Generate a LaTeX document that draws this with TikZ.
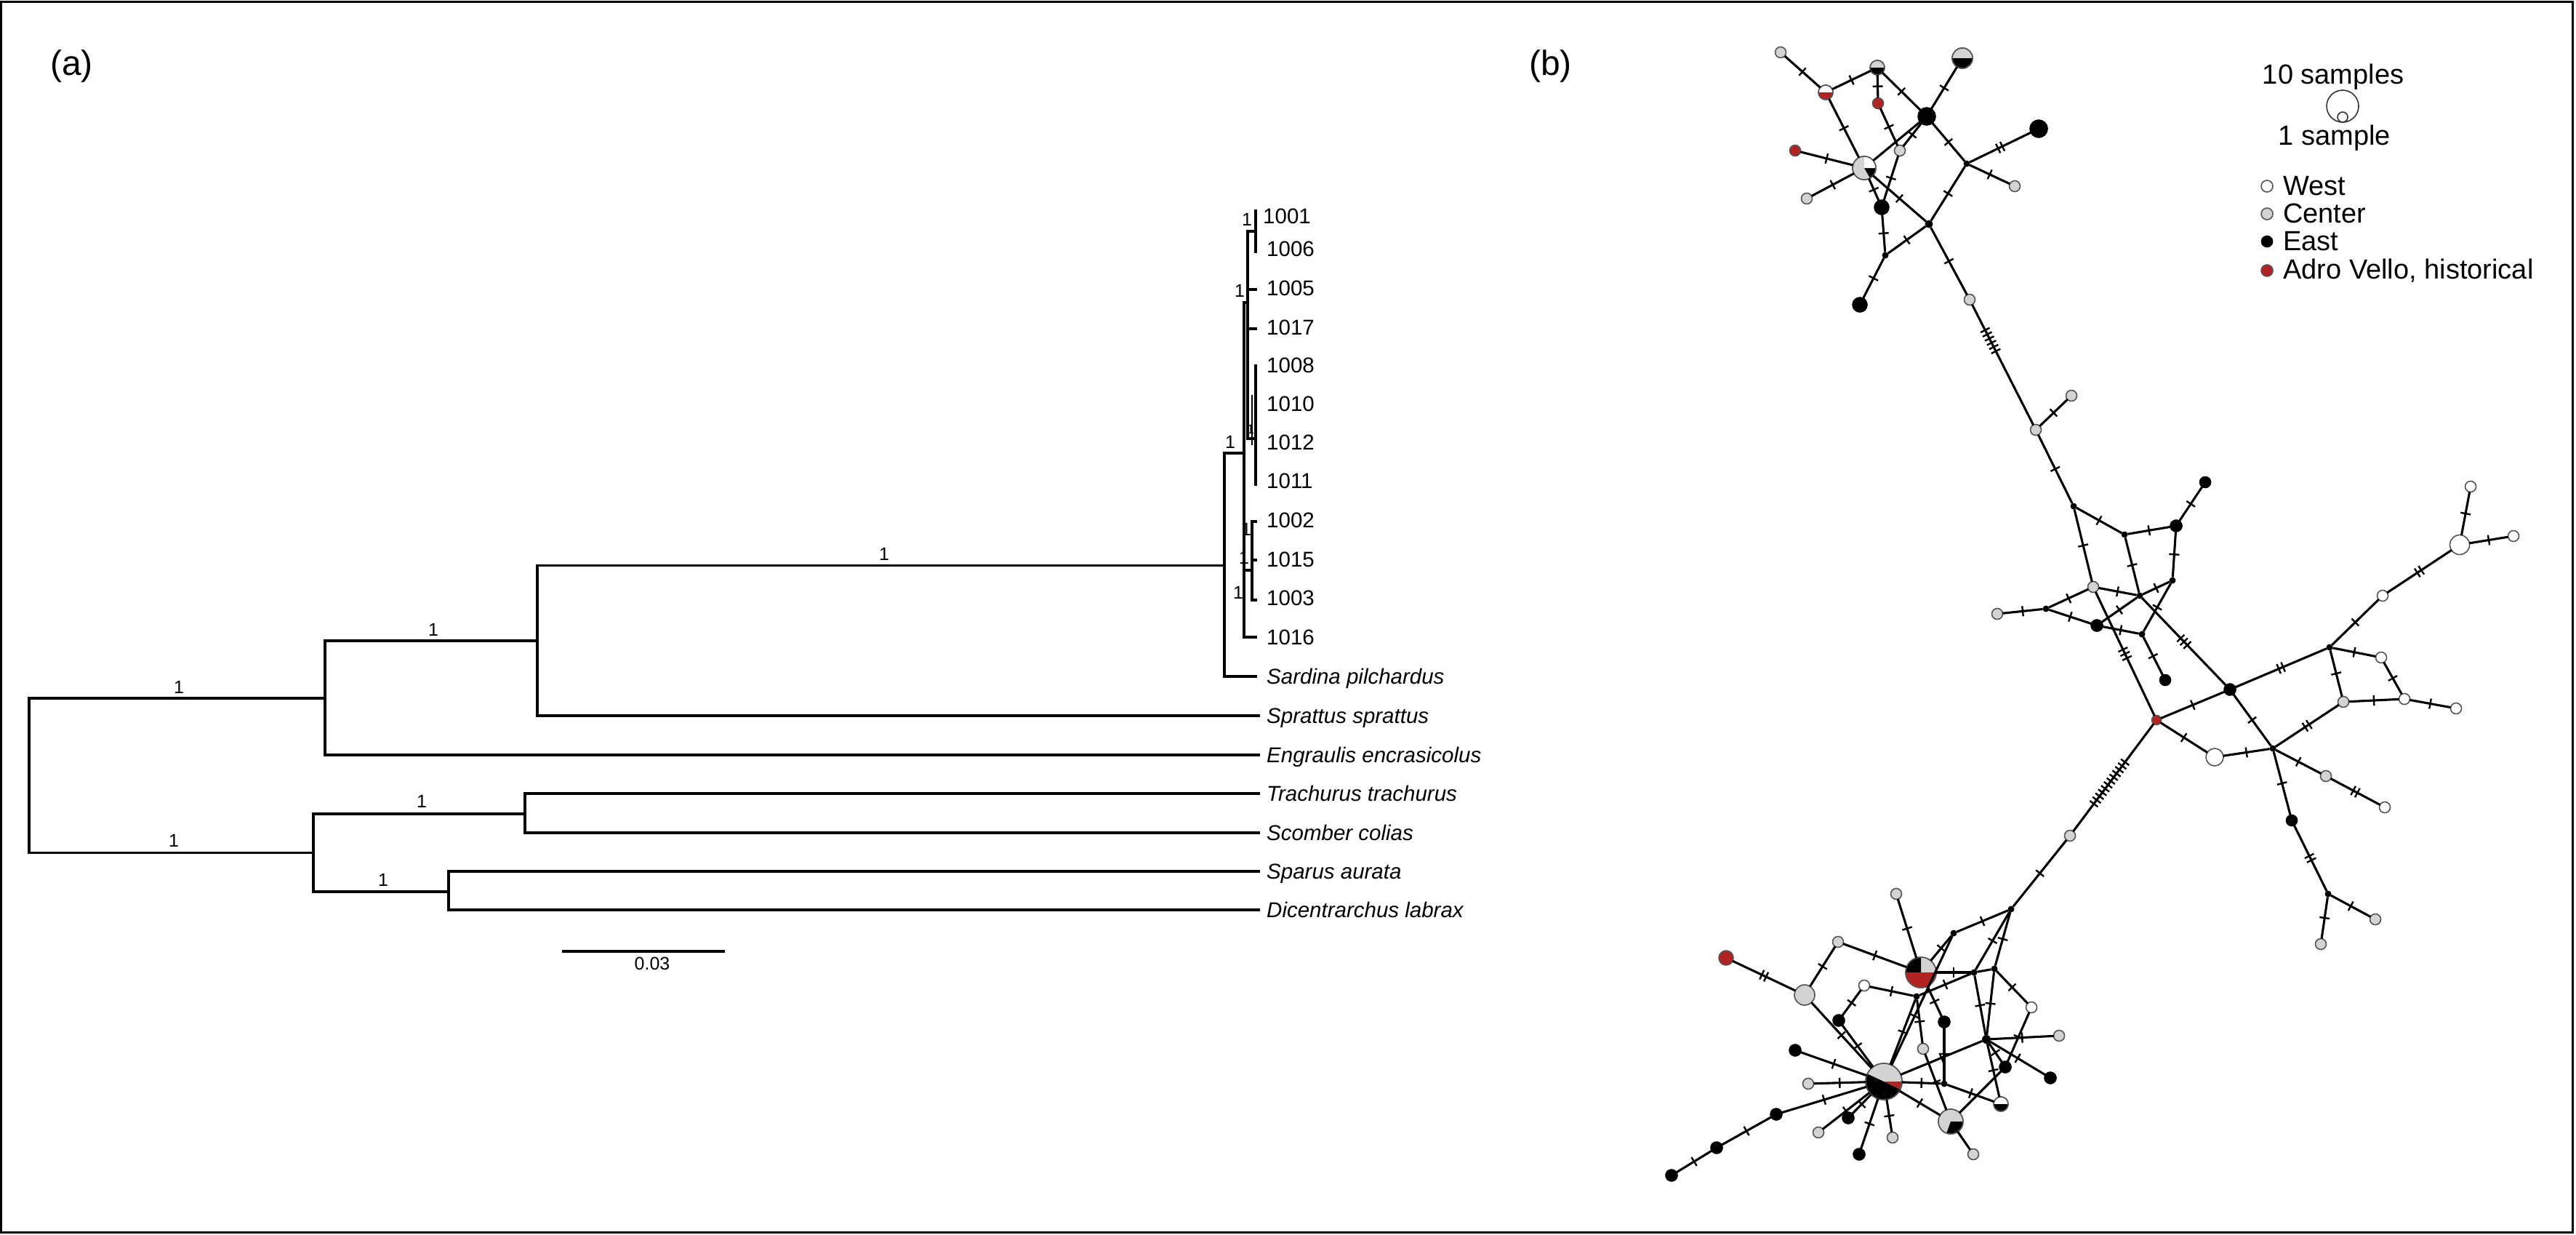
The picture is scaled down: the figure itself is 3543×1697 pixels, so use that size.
\documentclass[tikz,border=0pt]{standalone}
\usepackage{fontspec}
\setmainfont{Liberation Sans}
\usetikzlibrary{decorations.markings}
\definecolor{avred}{RGB}{178,34,34}
\definecolor{cgrey}{RGB}{211,211,211}
\definecolor{ol}{RGB}{85,85,85}
\newcommand\tks[1]{\foreach \k in {1,...,#1}{\draw[tk] ({(\k-(#1+1)/2)*6.5},-7) -- ({(\k-(#1+1)/2)*6.5},7);}}
\newcommand\pieslice[5]{\fill[#5, shift={(#1.center)}, x=1pt, y=1pt] (0,0) -- (#3:#2) arc[start angle=#3, end angle=#4, radius=#2] -- cycle;}
\newcommand\pierim[2]{\draw[ol, line width=1.6pt] (#1.center) circle[radius=#2pt];}
\begin{document}
\begin{tikzpicture}[x=1pt,y=-1pt,
 tr/.style={line width=3.8pt, line cap=rect},
 tip/.style={inner sep=0pt, anchor=base west, font=\fontsize{29.5}{34}\selectfont},
 spn/.style={inner sep=0pt, anchor=base west, font=\fontsize{29.5}{34}\selectfont\itshape},
 bs/.style={inner sep=0pt, font=\fontsize{25}{30}\selectfont},
 hap/.style={circle, inner sep=0pt, outer sep=0pt, draw=ol, line width=1.6pt},
 wN/.style={hap, fill=white, minimum size=15pt},
 cN/.style={hap, fill=cgrey, minimum size=15pt},
 eN/.style={hap, fill=black, draw=black, minimum size=#1}, eN/.default=15pt,
 rN/.style={hap, fill=avred, minimum size=#1}, rN/.default=15pt,
 mv/.style={circle, inner sep=0pt, outer sep=0pt, fill=black, minimum size=#1}, mv/.default=9pt,
 pn/.style={hap, minimum size=#1},
 ed/.style={line width=3.1pt},
 tk/.style={line width=2.4pt},
 mut/.style={postaction={decorate,decoration={markings,mark=at position 0.5 with {\tks{#1}}}}},
 mutp/.style 2 args={postaction={decorate,decoration={markings,mark=at position #2 with {\tks{#1}}}}},
 lg/.style={inner sep=0pt, font=\fontsize{38}{44}\selectfont},
 pan/.style={inner sep=0pt, anchor=base west, font=\fontsize{48}{56}\selectfont}
]
\useasboundingbox (0,0) rectangle (3543,1697);
\fill[white] (0,0) rectangle (3543,1697);
\draw[line width=3pt] (1.5,2) rectangle (3538,1694);

\node[pan] (pa) at (69,103) {(a)};
\node[pan] (pb) at (2103,103) {(b)};

% ---------------- tree ----------------
\draw[tr] (40,960) -- (40,1172.5);
\draw[tr] (40,960) -- (447,960);
\draw[tr] (447,881) -- (447,1038);
\draw[tr] (447,1038) -- (1731,1038);
\draw[tr] (447,881) -- (739,881);
\draw[tr] (739,777.5) -- (739,984);
\draw[tr] (739,984) -- (1731,984);
\draw[tr] (739,777.5) -- (1684,777.5);
\draw[tr] (1684,623) -- (1684,930);
\draw[tr] (1684,930) -- (1727,930);
\draw[tr] (1684,623) -- (1711,623);
\draw[tr] (1711,416) -- (1711,876);
\draw[tr] (1711,416) -- (1716,416);
\draw[tr] (1716,318) -- (1716,603);
\draw[tr] (1716,318) -- (1727,318);
\draw[tr] (1727,290) -- (1727,346);
\draw[tr] (1716,398) -- (1727,398);
\draw[tr] (1716,452) -- (1727,452);
\draw[tr] (1716,603) -- (1727,603);
\draw[tr] (1727,503) -- (1727,666);
\draw[line width=2.4pt] (1722,543) -- (1722,612);
\draw[tr] (1711,784) -- (1722,784);
\draw[tr] (1722,717) -- (1722,825);
\draw[tr] (1722,717) -- (1727,717);
\draw[tr] (1722,770) -- (1727,770);
\draw[tr] (1722,825) -- (1727,825);
\draw[tr] (1711,876) -- (1727,876);
\draw[tr] (40,1172.5) -- (431,1172.5);
\draw[tr] (431,1119) -- (431,1226);
\draw[tr] (431,1119) -- (722,1119);
\draw[tr] (722,1091) -- (722,1145);
\draw[tr] (722,1091) -- (1731,1091);
\draw[tr] (722,1145) -- (1731,1145);
\draw[tr] (431,1226) -- (617,1226);
\draw[tr] (617,1198) -- (617,1251);
\draw[tr] (617,1198) -- (1731,1198);
\draw[tr] (617,1251) -- (1731,1251);

\node[tip] (h1001) at (1737,307) {1001};
\node[tip] (h1006) at (1742,352) {1006};
\node[tip] (h1005) at (1742,406.5) {1005};
\node[tip] (h1017) at (1742,460) {1017};
\node[tip] (h1008) at (1742,512.5) {1008};
\node[tip] (h1010) at (1742,565) {1010};
\node[tip] (h1012) at (1742,618.5) {1012};
\node[tip] (h1011) at (1742,671) {1011};
\node[tip] (h1002) at (1742,725.5) {1002};
\node[tip] (h1015) at (1742,779) {1015};
\node[tip] (h1003) at (1742,832) {1003};
\node[tip] (h1016) at (1742,886) {1016};
\node[spn] (sard) at (1742,940.5) {Sardina pilchardus};
\node[spn] (sprat) at (1742,994.5) {Sprattus sprattus};
\node[spn] (engr) at (1742,1048.5) {Engraulis encrasicolus};
\node[spn] (trach) at (1742,1101.5) {Trachurus trachurus};
\node[spn] (scomb) at (1742,1155.5) {Scomber colias};
\node[spn] (spar) at (1742,1208.5) {Sparus aurata};
\node[spn] (dicen) at (1742,1261.5) {Dicentrarchus labrax};

\node[bs] (b1) at (246,945) {1};
\node[bs] (b2) at (596,866) {1};
\node[bs] (b3) at (1216,762) {1};
\node[bs] (b4) at (239,1156) {1};
\node[bs] (b5) at (580,1102) {1};
\node[bs] (b6) at (527,1210) {1};
\node[bs] (b7) at (1715,302) {1};
\node[bs] (b8) at (1705,400) {1};
\node[bs] (b9) at (1692,608) {1};
\node[bs,font=\fontsize{18}{20}\selectfont] (b10) at (1720,590) {1};
\node[bs] (b11) at (1714,728) {1};
\node[bs] (b12) at (1711,767) {1};
\node[bs] (b13) at (1703,815) {1};

\draw[line width=3.8pt] (773,1308) -- (997,1308);
\node[bs, anchor=base] (sc) at (897,1333) {0.03};

% ---------------- legend ----------------
\node[lg, anchor=base] (l10) at (3209,115.5) {10 samples};
\node[circle, draw=black!80, line width=1.6pt, minimum size=44pt, inner sep=0pt] (s10) at (3222,146) {};
\node[circle, draw=black!80, line width=1.6pt, minimum size=14pt, inner sep=0pt] (s1) at (3222,161) {};
\node[lg, anchor=base] (l1) at (3211,199) {1 sample};
\node[wN, minimum size=16pt] (lw) at (3118,256) {};
\node[cN, minimum size=16pt] (lc) at (3118,294) {};
\node[eN=15pt] (le) at (3118,332) {};
\node[rN=16pt] (lr) at (3118,372) {};
\node[lg, anchor=base west] (lwt) at (3140,268) {West};
\node[lg, anchor=base west] (lct) at (3140,306) {Center};
\node[lg, anchor=base west] (let) at (3140,344) {East};
\node[lg, anchor=base west] (lrt) at (3140,383) {Adro Vello, historical};

% ---------------- network nodes: top ----------------
\node[cN] (t1) at (2449,72) {};
\node[pn=20pt] (t2) at (2511,127) {};
\node[pn=20pt] (t3) at (2582,93) {};
\node[rN] (t4) at (2583,142) {};
\node[eN=24pt] (t5) at (2650,160) {};
\node[pn=28pt] (t6) at (2699,80) {};
\node[eN=24pt] (t7) at (2804,177) {};
\node[rN] (t8) at (2469,207) {};
\node[pn=32pt] (t9) at (2564,231) {};
\node[cN] (t10) at (2613,207) {};
\node[cN] (t11) at (2485,273) {};
\node[eN=20pt] (t12) at (2588,285) {};
\node[mv] (t13) at (2705,225) {};
\node[cN] (t14) at (2771,256) {};
\node[mv=11pt] (t15) at (2653,308) {};
\node[mv] (t16) at (2593,351) {};
\node[eN=20pt] (t17) at (2558,419) {};
\node[cN] (t18) at (2709,412) {};
\pieslice{t2}{10}{0}{180}{white}\pieslice{t2}{10}{180}{360}{avred}\pierim{t2}{10}
\pieslice{t3}{10}{0}{180}{cgrey}\pieslice{t3}{10}{180}{360}{black}\pierim{t3}{10}
\pieslice{t6}{14}{0}{180}{cgrey}\pieslice{t6}{14}{180}{360}{black}\pierim{t6}{14}
\pieslice{t9}{16}{90}{300}{cgrey}\pieslice{t9}{16}{300}{360}{black}\pieslice{t9}{16}{0}{90}{white}\pierim{t9}{16}

% middle
\node[cN] (m1) at (2800,591) {};
\node[cN] (m2) at (2849,544) {};
\node[mv] (m3) at (2852,696) {};
\node[mv] (m4) at (2922,735) {};
\node[eN=16pt] (m5) at (2993,723) {};
\node[eN] (m6) at (3033,663) {};
\node[mv] (m7) at (2988,798) {};
\node[cN] (m8) at (2879,807) {};
\node[mv] (m9) at (2943,819) {};
\node[cN] (m10) at (2747,844) {};
\node[mv] (m11) at (2814,837) {};
\node[eN=16pt] (m12) at (2884,860) {};
\node[mv] (m13) at (2946,872) {};
\node[eN] (m14) at (2978,935) {};
\node[rN=13pt] (rr) at (2966,990) {};
\node[eN=16pt] (m15) at (3067,948) {};
\node[wN, minimum size=24pt] (w1) at (3046,1041) {};
\node[mv] (n1) at (3126,1029) {};
\node[mv] (n2) at (3204,890) {};
\node[wN] (w2) at (3277,819) {};
\node[wN, minimum size=27pt] (w3) at (3383,749) {};
\node[wN] (w4) at (3398,669) {};
\node[wN] (w11) at (3457,737) {};
\node[wN] (w5) at (3275,904) {};
\node[cN] (g1) at (3223,965) {};
\node[wN] (w6) at (3307,961) {};
\node[wN] (w7) at (3378,974) {};
\node[cN] (g2) at (3199,1067) {};
\node[wN] (w8) at (3280,1110) {};
\node[eN] (bb1) at (3152,1128) {};
\node[mv] (n3) at (3202,1229) {};
\node[cN] (g3) at (3267,1264) {};
\node[cN] (g4) at (3192,1298) {};

% bottom
\node[cN] (g5) at (2847,1149) {};
\node[mv] (n4) at (2766,1250) {};
\node[cN] (g6) at (2608,1229) {};
\node[pn=42pt] (A1) at (2642,1337) {};
\node[mv] (n5) at (2687,1283) {};
\node[cN] (g7) at (2528,1295) {};
\node[rN=20pt] (r2) at (2374,1317) {};
\node[cN, minimum size=28pt] (gg) at (2482,1368) {};
\node[wN] (w9) at (2564,1355) {};
\node[mv] (n6) at (2636,1370) {};
\node[mv] (n7) at (2715,1337) {};
\node[mv] (n8) at (2743,1332) {};
\node[wN] (w10) at (2794,1385) {};
\node[eN=16pt] (bb2) at (2529,1403) {};
\node[eN=16pt] (bb3) at (2674,1405) {};
\node[cN] (g8) at (2645,1442) {};
\node[mv=12pt] (n9) at (2732,1429) {};
\node[cN] (g9) at (2832,1424) {};
\node[pn=50pt] (B1) at (2591,1487) {};
\node[eN=16pt] (bb4) at (2469,1444) {};
\node[cN] (g10) at (2487,1490) {};
\node[eN=16pt] (bb5) at (2443,1532) {};
\node[eN=16pt] (bb6) at (2361,1578) {};
\node[eN=16pt] (bb7) at (2299,1616) {};
\node[eN=16pt] (bb8) at (2542,1537) {};
\node[cN] (g11) at (2501,1557) {};
\node[eN=16pt] (bb9) at (2557,1587) {};
\node[cN] (g12) at (2603,1564) {};
\node[mv] (n10) at (2674,1490) {};
\node[pn=34pt] (B2) at (2683,1542) {};
\node[cN] (g13) at (2714,1587) {};
\node[eN=16pt] (bb10) at (2758,1467) {};
\node[eN=16pt] (bb11) at (2820,1482) {};
\node[pn=20pt] (hw) at (2752,1518) {};
\pieslice{A1}{21}{0}{90}{cgrey}\pieslice{A1}{21}{90}{180}{black}\pieslice{A1}{21}{180}{360}{avred}\pierim{A1}{21}
\pieslice{B1}{25}{0}{155}{cgrey}\pieslice{B1}{25}{155}{335}{black}\pieslice{B1}{25}{335}{360}{avred}\pierim{B1}{25}
\pieslice{B2}{17}{0}{250}{cgrey}\pieslice{B2}{17}{250}{360}{black}\pierim{B2}{17}
\pieslice{hw}{10}{0}{180}{white}\pieslice{hw}{10}{180}{360}{black}\pierim{hw}{10}

% ---------------- network edges ----------------
\draw[ed,mut=1] (t1) -- (t2);
\draw[ed,mut=1] (t2) -- (t3);
\draw[ed,mut=1] (t3) -- (t4);
\draw[ed,mut=1] (t3) -- (t5);
\draw[ed,mut=1] (t5) -- (t6);
\draw[ed,mut=1] (t2) -- (t9);
\draw[ed,mut=1] (t4) -- (t10);
\draw[ed] (t5) -- (t9);
\draw[ed,mut=1] (t5) -- (t10);
\draw[ed,mut=1] (t5) -- (t13);
\draw[ed,mut=2] (t13) -- (t7);
\draw[ed,mut=1] (t13) -- (t14);
\draw[ed,mut=1] (t13) -- (t15);
\draw[ed,mut=1] (t8) -- (t9);
\draw[ed,mut=1] (t11) -- (t9);
\draw[ed,mut=1] (t9) -- (t12);
\draw[ed,mut=1] (t10) -- (t12);
\draw[ed,mut=1] (t9) -- (t15);
\draw[ed,mut=1] (t12) -- (t16);
\draw[ed,mut=1] (t16) -- (t15);
\draw[ed,mut=1] (t16) -- (t17);
\draw[ed,mut=1] (t15) -- (t18);
\draw[ed,mutp={6}{0.3}] (t18) -- (m1);

\draw[ed,mut=1] (m1) -- (m2);
\draw[ed,mut=1] (m1) -- (m3);
\draw[ed,mut=1] (m3) -- (m4);
\draw[ed,mut=1] (m4) -- (m5);
\draw[ed,mut=1] (m5) -- (m6);
\draw[ed,mut=1] (m5) -- (m7);
\draw[ed,mut=1] (m3) -- (m8);
\draw[ed,mut=1] (m4) -- (m9);
\draw[ed,mut=1] (m8) -- (m9);
\draw[ed,mut=1] (m9) -- (m7);
\draw[ed,mut=1] (m10) -- (m11);
\draw[ed,mut=1] (m11) -- (m8);
\draw[ed,mut=1] (m11) -- (m12);
\draw[ed,mut=1] (m12) -- (m9);
\draw[ed,mut=1] (m12) -- (m13);
\draw[ed,mut=1] (m13) -- (m7);
\draw[ed,mut=1] (m13) -- (m14);
\draw[ed,mut=3] (m8) -- (rr);
\draw[ed,mut=3] (m9) -- (m15);
\draw[ed,mut=1] (rr) -- (m15);
\draw[ed,mut=1] (rr) -- (w1);
\draw[ed,mutp={12}{0.55}] (rr) -- (g5);
\draw[ed,mut=1] (w1) -- (n1);
\draw[ed,mut=1] (m15) -- (n1);
\draw[ed,mut=2] (m15) -- (n2);
\draw[ed,mut=1] (n2) -- (w2);
\draw[ed,mut=2] (w2) -- (w3);
\draw[ed,mut=1] (w3) -- (w4);
\draw[ed,mut=1] (w3) -- (w11);
\draw[ed,mut=1] (n2) -- (w5);
\draw[ed,mut=1] (n2) -- (g1);
\draw[ed,mut=1] (w5) -- (w6);
\draw[ed,mut=1] (g1) -- (w6);
\draw[ed,mut=1] (w6) -- (w7);
\draw[ed,mut=2] (n1) -- (g1);
\draw[ed,mut=1] (n1) -- (g2);
\draw[ed,mut=2] (g2) -- (w8);
\draw[ed,mut=1] (n1) -- (bb1);
\draw[ed,mut=2] (bb1) -- (n3);
\draw[ed,mut=1] (n3) -- (g3);
\draw[ed,mut=1] (n3) -- (g4);

\draw[ed,mut=1] (g5) -- (n4);
\draw[ed,mut=1] (n4) -- (n5);
\draw[ed,mut=1] (n4) -- (n7);
\draw[ed,mut=1] (n4) -- (n8);
\draw[ed,mut=1] (n5) -- (A1);
\draw[ed,mutp={1}{0.62}] (n5) -- (B1);
\draw[ed,mut=1] (n6) -- (B1);
\draw[ed,mut=1] (g6) -- (A1);
\draw[ed,mut=1] (g7) -- (A1);
\draw[ed,mut=1] (A1) -- (n7);
\draw[ed] (n7) -- (n8);
\draw[ed,mut=1] (w9) -- (n6);
\draw[ed,mut=1] (n6) -- (n7);
\draw[ed,mut=1] (A1) -- (bb3);
\draw[ed,mut=1] (n6) -- (g8);
\draw[ed,mut=1] (n7) -- (n9);
\draw[ed,mut=1] (n8) -- (n9);
\draw[ed,mut=1] (n8) -- (w10);
\draw[ed,mut=1] (n9) -- (g9);
\draw[ed,mut=2] (r2) -- (gg);
\draw[ed,mut=1] (gg) -- (g7);
\draw[ed,mut=1] (gg) -- (B1);
\draw[ed,mut=1] (w9) -- (bb2);
\draw[ed,mut=1] (bb2) -- (B1);
\draw[ed,mut=1] (bb4) -- (B1);
\draw[ed,mut=1] (g10) -- (B1);
\draw[ed,mut=1] (bb5) -- (B1);
\draw[ed,mut=1] (bb5) -- (bb6);
\draw[ed,mut=1] (bb6) -- (bb7);
\draw[ed,mut=1] (bb8) -- (B1);
\draw[ed,mut=1] (g11) -- (B1);
\draw[ed,mut=1] (bb9) -- (B1);
\draw[ed,mut=1] (g12) -- (B1);
\draw[ed,mut=1] (B1) -- (n10);
\draw[ed,mut=1] (bb3) -- (n10);
\draw[ed,mut=1] (B1) -- (n9);
\draw[ed,mut=1] (B1) -- (B2);
\draw[ed,mut=1] (g8) -- (B2);
\draw[ed] (B2) -- (g13);
\draw[ed] (B2) -- (bb10);
\draw[ed,mut=1] (w10) -- (bb10);
\draw[ed,mut=1] (n9) -- (bb10);
\draw[ed,mut=1] (n9) -- (bb11);
\draw[ed,mut=1] (n10) -- (hw);
\draw[ed,mut=1] (n9) -- (hw);
\end{tikzpicture}
\end{document}
